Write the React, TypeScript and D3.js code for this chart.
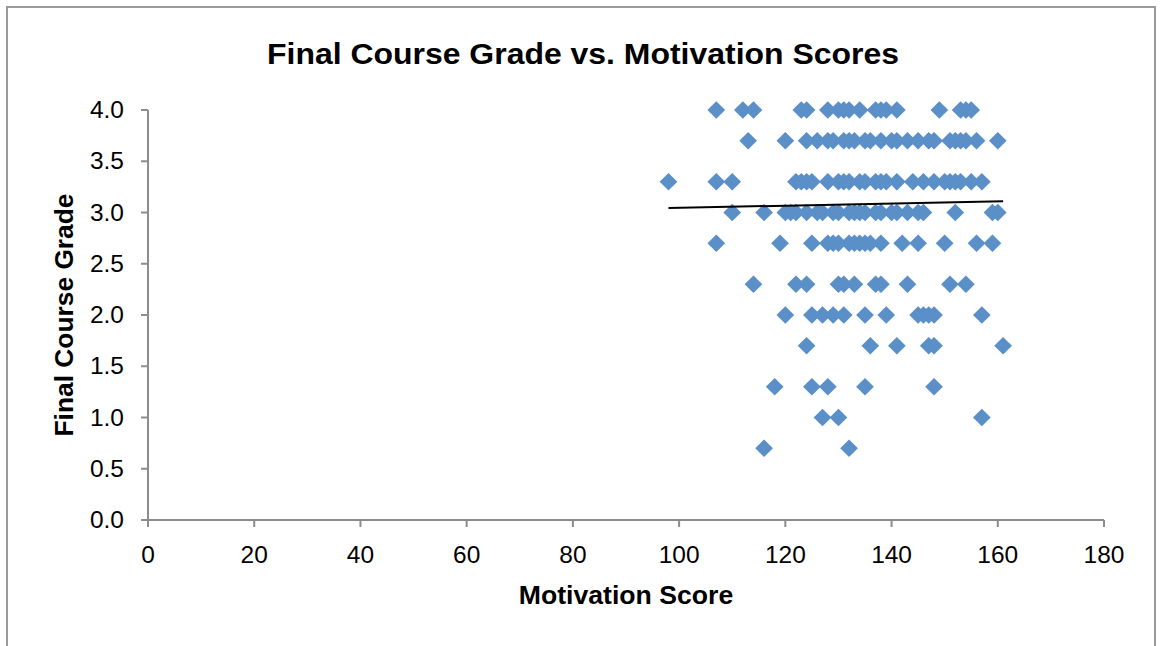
import React, { useEffect, useRef } from 'react';
import * as d3 from 'd3';

// motivation scores for each final grade level
const scores40 = [107, 112, 114, 123, 124, 128, 130, 131, 132, 134, 137, 138, 139, 141, 149, 153, 154, 155];
const scores37 = [113, 120, 124, 126, 128, 129, 131, 132, 133, 135, 136, 138, 140, 141, 143, 145, 147, 148, 151, 152, 153, 154, 156, 160];
const scores33 = [98, 107, 110, 122, 123, 124, 125, 128, 130, 131, 132, 134, 135, 137, 138, 139, 141, 144, 146, 148, 150, 151, 152, 153, 155, 157];
const scores30 = [110, 116, 120, 121, 122, 124, 126, 127, 129, 130, 132, 133, 134, 135, 137, 138, 140, 141, 143, 145, 146, 152, 159, 160];
const scores27 = [107, 119, 125, 128, 129, 130, 132, 133, 134, 135, 136, 138, 142, 145, 150, 156, 159];
const scores23 = [114, 122, 124, 130, 131, 133, 137, 138, 143, 151, 154];
const scores20 = [120, 125, 127, 129, 131, 135, 139, 145, 146, 147, 148, 157];
const scores17 = [124, 136, 141, 147, 148, 161];
const scores13 = [118, 125, 128, 135, 148];
const scores10 = [127, 130, 157];
const scores07 = [116, 132];

const gradeLevels = [4.0, 3.7, 3.3, 3.0, 2.7, 2.3, 2.0, 1.7, 1.3, 1.0, 0.7];
const scoreLists = [scores40, scores37, scores33, scores30, scores27, scores23, scores20, scores17, scores13, scores10, scores07];

// linear trendline
const trendX = [98, 161];
const trendSlope = 0.00103;
const trendIntercept = 2.943;

const xTicks = [0, 20, 40, 60, 80, 100, 120, 140, 160, 180];
const yTicks = [0, 0.5, 1, 1.5, 2, 2.5, 3, 3.5, 4];

const W = 1160;
const H = 646;
const SX = 1.065; // the source picture is a little wider than tall

export default function App() {
  const ref = useRef<SVGSVGElement>(null);

  useEffect(() => {
    if (!ref.current) return;
    const svg = d3.select(ref.current);
    svg.selectAll('*').remove();

    const x = d3.scaleLinear().domain([0, 180]).range([148, 1104]);
    const y = d3.scaleLinear().domain([0, 4]).range([520, 110]);
    const font = 'Liberation Sans, Arial, sans-serif';
    const axisColor = '#8c8c8c';

    // outer frame
    svg.append('rect')
      .attr('x', 7).attr('y', 7)
      .attr('width', 1148).attr('height', 660)
      .attr('fill', '#fff')
      .attr('stroke', '#9a9a9a')
      .attr('stroke-width', 2);

    const label = (tx: number, ty: number, txt: string, size: number, anchor: string, bold = false) =>
      svg.append('text')
        .attr('transform', `translate(${tx},${ty}) scale(${SX},1)`)
        .attr('text-anchor', anchor)
        .attr('font-family', font)
        .attr('font-weight', bold ? 'bold' : 'normal')
        .attr('font-size', size)
        .attr('fill', '#000')
        .text(txt);

    label(583, 64, 'Final Course Grade vs. Motivation Scores', 30, 'middle', true);

    // axis lines
    svg.append('line')
      .attr('x1', x(0)).attr('x2', x(180))
      .attr('y1', y(0)).attr('y2', y(0))
      .attr('stroke', axisColor).attr('stroke-width', 2);
    svg.append('line')
      .attr('x1', x(0)).attr('x2', x(0))
      .attr('y1', y(0) + 1).attr('y2', y(4))
      .attr('stroke', axisColor).attr('stroke-width', 2);

    // x ticks
    const xt = svg.append('g').selectAll('g').data(xTicks).join('g');
    xt.append('line')
      .attr('x1', d => x(d)).attr('x2', d => x(d))
      .attr('y1', y(0)).attr('y2', y(0) + 7)
      .attr('stroke', axisColor).attr('stroke-width', 2);
    xTicks.forEach(d => label(x(d), 563, d3.format('d')(d), 23, 'middle'));

    // y ticks
    const yt = svg.append('g').selectAll('g').data(yTicks).join('g');
    yt.append('line')
      .attr('x1', x(0) - 7).attr('x2', x(0))
      .attr('y1', d => y(d)).attr('y2', d => y(d))
      .attr('stroke', axisColor).attr('stroke-width', 2);
    yTicks.forEach(d => label(124, y(d) + 8, d3.format('.1f')(d), 23, 'end'));

    label(626, 604, 'Motivation Score', 25, 'middle', true);

    svg.append('text')
      .attr('transform', `translate(73,315) rotate(-90)`)
      .attr('text-anchor', 'middle')
      .attr('font-family', font)
      .attr('font-weight', 'bold')
      .attr('font-size', 25)
      .attr('textLength', 243)
      .attr('lengthAdjust', 'spacingAndGlyphs')
      .text('Final Course Grade');

    // points
    const points = gradeLevels.flatMap((g, i) => scoreLists[i].map(s => ({ s, g })));
    const diamond = d3.symbol().type(d3.symbolDiamond2).size(200);
    svg.append('g')
      .selectAll('path')
      .data(points)
      .join('path')
      .attr('d', diamond)
      .attr('transform', d => `translate(${x(d.s)},${y(d.g)})`)
      .attr('fill', '#5b8fc8');

    // trendline
    const line = d3.line<number>()
      .x(d => x(d))
      .y(d => y(trendIntercept + trendSlope * d));
    svg.append('path')
      .attr('d', line(trendX))
      .attr('fill', 'none')
      .attr('stroke', '#000')
      .attr('stroke-width', 2);
  }, []);

  return (
    <svg
      ref={ref}
      width={W}
      height={H}
      style={{ position: 'fixed', left: 0, top: 0, display: 'block', background: '#fff' }}
    />
  );
}
